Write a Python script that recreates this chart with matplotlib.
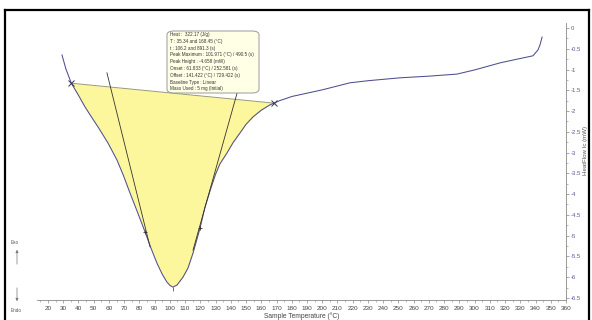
import numpy as np
import matplotlib
matplotlib.use('Agg')
import matplotlib.pyplot as plt
from matplotlib.patches import FancyBboxPatch
from matplotlib.lines import Line2D

plt.rcParams['font.family'] = ['Liberation Sans', 'DejaVu Sans']

# heat flow curve (deg C, mW)
temp = [29.2, 31.8, 35.34, 40.0, 44.3, 48.5, 52.8, 59.4, 65.3, 69.5, 73.8, 78.8,
        83.7, 87.6, 91.5, 95.0, 98.1, 100.1, 102.0, 104.7, 108.6, 111.9, 115.2,
        119.8, 123.0, 126.9, 130.0, 132.9, 137.5, 141.5, 146.0, 150.0, 154.6, 160.0,
        165.7, 168.45, 172.0, 176.9, 180.0, 190.0, 200.0, 218.2, 230.0, 251.0,
        270.0, 288.5, 300.0, 316.7, 328.0, 338.3, 341.6, 343.0, 344.3]
heatflow = [-0.65, -0.99, -1.33, -1.62, -1.90, -2.14, -2.38, -2.77, -3.18, -3.55,
            -3.97, -4.44, -4.91, -5.30, -5.66, -5.93, -6.12, -6.20, -6.24, -6.19,
            -6.00, -5.78, -5.42, -4.82, -4.32, -3.86, -3.52, -3.27, -3.01, -2.76, -2.53,
            -2.32, -2.14, -1.98, -1.85, -1.81, -1.75, -1.69, -1.65, -1.57, -1.49,
            -1.32, -1.27, -1.20, -1.16, -1.11, -1.01, -0.84, -0.75, -0.67, -0.53,
            -0.40, -0.22]

# integration limits and baseline ends
t_start, t_end = 35.34, 168.45
hf_start, hf_end = -1.33, -1.81
peak_t, peak_hf = 101.971, -6.24
infl_t = [83.7, 119.8]
infl_hf = [-4.91, -4.82]

# tangent segments (onset / offset constructions)
tan_left_t = [58.7, 87.0]
tan_left_hf = [-1.08, -5.27]
tan_right_t = [144.1, 115.2]
tan_right_hf = [-1.57, -5.35]

results = ['Heat :  322.17 (J/g)',
           'T : 35.34 and 168.45 (\u00b0C)',
           't : 106.2 and 891.3 (s)',
           'Peak Maximum : 101.971 (\u00b0C) / 490.5 (s)',
           'Peak Height : -4.658 (mW)',
           'Onset : 61.833 (\u00b0C) / 252.581 (s)',
           'Offset : 141.422 (\u00b0C) / 729.422 (s)',
           'Baseline Type : Linear',
           'Mass Used : 5 mg (Initial)']

xticks = np.arange(20, 361, 10)
yticks = np.arange(0, -6.51, -0.5)

fig = plt.figure(figsize=(5.92, 3.2), dpi=100)
ax = fig.add_axes([37/592, 1-300/320, (566-37)/592, (300-23)/320])

t = np.array(temp)
hf = np.array(heatflow)
sel = (t >= t_start) & (t <= t_end)
base = np.interp(t[sel], [t_start, t_end], [hf_start, hf_end])
ax.fill_between(t[sel], hf[sel], base, color='#fcf79c', lw=0)
ax.plot([t_start, t_end], [hf_start, hf_end], color='#9a9a70', lw=0.7)
ax.plot(t, hf, color='#4e4e8e', lw=0.75)
ax.plot(tan_left_t, tan_left_hf, color='#333333', lw=0.6)
ax.plot(tan_right_t, tan_right_hf, color='#333333', lw=0.6)
ax.plot([t_start, t_end], [hf_start, hf_end], 'x', color='#333355', ms=4, mew=0.7)
ax.plot(infl_t, infl_hf, '+', color='#333333', ms=3, mew=0.6)
ax.plot([peak_t], [peak_hf], marker=3, color='#555555', ms=3, mew=0.6)

ax.set_xlim(12.8, 360)
ax.set_ylim(-6.55, 0.12)
for s in ['top', 'left']:
    ax.spines[s].set_visible(False)
for s in ['bottom', 'right']:
    ax.spines[s].set_color('#888888')
    ax.spines[s].set_linewidth(0.6)
ax.yaxis.tick_right()
ax.set_xticks(xticks)
ax.set_xticks(np.arange(15, 361, 5), minor=True)
ax.set_yticks(yticks)
ax.set_yticklabels(['%g' % v for v in yticks])
ax.set_yticks(np.arange(0, -6.51, -0.25), minor=True)
ax.tick_params(axis='x', which='major', length=2.5, width=0.5, color='#888888',
               labelsize=4.6, labelcolor='#444444', pad=2)
ax.tick_params(axis='x', which='minor', length=1.3, width=0.4, color='#888888')
ax.tick_params(axis='y', which='major', length=2.5, width=0.5, color='#888888',
               labelsize=4.3, labelcolor='#5a5a9a', pad=1)
ax.tick_params(axis='y', which='minor', length=1.3, width=0.4, color='#888888')
ax.set_xlabel('Sample Temperature (\u00b0C)', fontsize=4.8, color='#444444', labelpad=0.5)
fig.text(586/592, 1-150/320, 'HeatFlow Ic (mW)', fontsize=4.4, color='#555555',
         rotation=90, ha='center', va='center')

# results box
fig.text(170/592, 1-32/320, '\n'.join(results), fontsize=3.3, color='#333333',
         va='top', ha='left', linespacing=1.45)
fig.patches.append(FancyBboxPatch((167/592, 1-93/320), 92/592, 62/320,
                                  boxstyle='round,pad=0,rounding_size=0.012',
                                  transform=fig.transFigure, fc='#ffffe6',
                                  ec='#999999', lw=0.7, zorder=0))

# exo / endo arrows
fig.text(15/592, 1-243/320, 'Exo', fontsize=3.3, color='#555555', ha='center', va='center')
fig.text(16/592, 1-310/320, 'Endo', fontsize=3.3, color='#555555', ha='center', va='center')
ax.annotate('', xy=(17/592, 1-247/320), xytext=(17/592, 1-267/320), xycoords='figure fraction',
            arrowprops=dict(arrowstyle='-|>', color='#777777', lw=0.5, mutation_scale=4))
ax.annotate('', xy=(17/592, 1-304/320), xytext=(17/592, 1-285/320), xycoords='figure fraction',
            arrowprops=dict(arrowstyle='-|>', color='#777777', lw=0.5, mutation_scale=4))

# screenshot frame
for xs, ys in [([5, 5], [10, 320]), ([5, 589], [10, 10]), ([589, 589], [10, 320])]:
    fig.add_artist(Line2D([x/592 for x in xs], [1-y/320 for y in ys], color='black', lw=1.6))

plt.savefig('out.png', dpi=100)
